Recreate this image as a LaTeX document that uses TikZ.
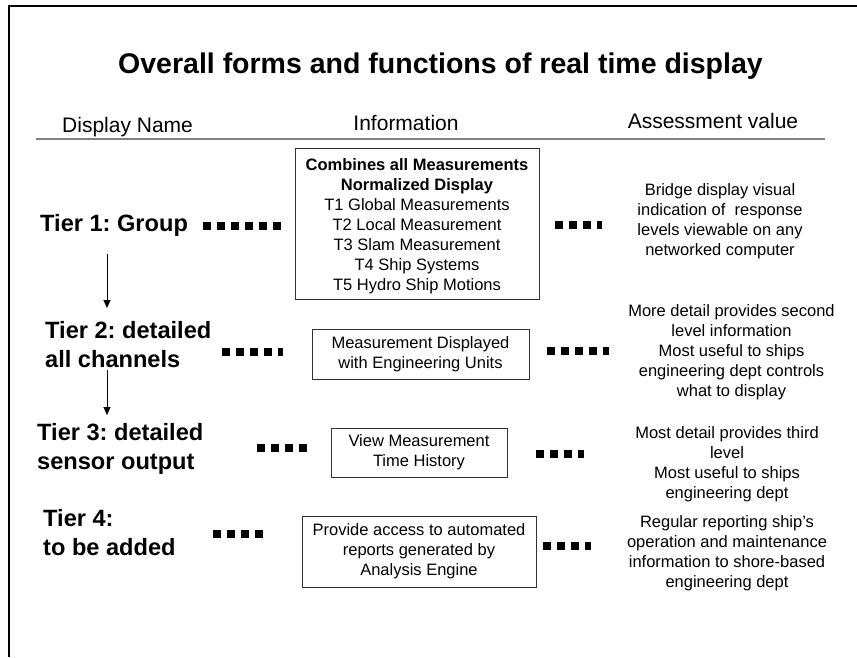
\documentclass[tikz,border=0pt]{standalone}
\usepackage{fontspec}
\setmainfont{Liberation Sans}
\usetikzlibrary{arrows.meta}
\frenchspacing
\begin{document}
\begin{tikzpicture}[x=1pt,y=-1pt,
  title/.style={font=\fontsize{28.5}{34}\selectfont\bfseries},
  colhead/.style={font=\fontsize{21}{25}\selectfont, inner sep=0pt},
  tier/.style={font=\fontsize{23.6}{28.3}\selectfont\bfseries, align=left, inner sep=0pt, anchor=base west},
  body/.style={font=\fontsize{16.5}{20}\selectfont, align=center, inner sep=0pt},
  infobox/.style={body, draw=black!80, line width=0.9pt},
  dotline/.style={line width=8pt, dash pattern=on 8pt off 6pt, line cap=butt},
  flow/.style={line width=1pt, -{Triangle[width=7pt,length=8pt]}}]
\useasboundingbox (0,0) rectangle (857,657);
\fill[white] (0,0) rectangle (857,657);

% page frame: left and top edges
\draw[line width=2pt] (9,657) -- (9,6) -- (857,6);

% title and column headings
\node[title, anchor=base, inner sep=0pt] (title) at (440.5,73) {Overall forms and functions of real time display};
\node[colhead, anchor=base west] (hname) at (62,132) {Display Name};
\node[colhead, anchor=base] (hinfo) at (406,130) {Information};
\node[colhead, anchor=base] (hvalue) at (713,128) {Assessment value};
\coordinate (rulel) at (36,139);
\coordinate (ruler) at (825,139);
\draw[gray, line width=1.3pt] (rulel) -- (ruler);

% tier names (anchored at the baseline of their last line)
\node[tier] (tier1) at (40,231) {Tier 1: Group};
\node[tier] (tier2) at (45,367) {Tier 2: detailed\\all channels};
\node[tier] (tier3) at (37,469) {Tier 3: detailed\\sensor output};
\node[tier] (tier4) at (43,555) {Tier 4:\\to be added};

% information boxes
\node[infobox, minimum width=244pt, minimum height=151pt] (info1) at (417,223.5)
  {\rule{0pt}{18pt}\textbf{Combines all Measurements}\\\textbf{Normalized Display}\\T1 Global Measurements\\T2 Local Measurement\\T3 Slam Measurement\\T4 Ship Systems\\T5 Hydro Ship Motions};
\node[infobox, minimum width=217pt, minimum height=50pt] (info2) at (420.5,354)
  {Measurement Displayed\\with Engineering Units};
\node[infobox, minimum width=176pt, minimum height=49pt] (info3) at (419,452.5)
  {View Measurement\\Time History};
\node[infobox, minimum width=234pt, minimum height=71pt] (info4) at (419,551.5)
  {Provide access to automated\\reports generated by\\Analysis Engine};

% assessment values (anchored at the baseline of their last line)
\node[body, anchor=base] (val1) at (720,255)
  {Bridge display visual\\indication of\ \ response\\levels viewable on any\\networked computer};
\node[body, anchor=base] (val2) at (731.5,396)
  {More detail provides second\\level information\\Most useful to ships\\engineering dept controls\\what to display};
\node[body, anchor=base] (val3) at (727,498)
  {Most detail provides third\\level\\Most useful to ships\\engineering dept};
\node[body, anchor=base] (val4) at (727,587)
  {Regular reporting ship’s\\operation and maintenance\\information to shore-based\\engineering dept};

% dotted leaders
\coordinate (d1a) at (203,226);  \coordinate (d1b) at (282,226);
\coordinate (d1c) at (555,225);  \coordinate (d1d) at (602,225);
\coordinate (d2a) at (222,352);  \coordinate (d2b) at (283,352);
\coordinate (d2c) at (547,351);  \coordinate (d2d) at (609,351);
\coordinate (d3a) at (257,448);  \coordinate (d3b) at (308,448);
\coordinate (d3c) at (536,454);  \coordinate (d3d) at (584,454);
\coordinate (d4a) at (213,534);  \coordinate (d4b) at (263,534);
\coordinate (d4c) at (543,546);  \coordinate (d4d) at (591,546);
\foreach \s/\e in {d1a/d1b,d1c/d1d,d2a/d2b,d2c/d2d,d3a/d3b,d3c/d3d,d4a/d4b,d4c/d4d}
  \draw[dotline] (\s) -- (\e);

% drill-down arrows between tiers
\coordinate (a1s) at (107,254); \coordinate (a1e) at (107,308);
\coordinate (a2s) at (107,370); \coordinate (a2e) at (107,415);
\draw[flow] (a1s) -- (a1e);
\draw[flow] (a2s) -- (a2e);
\end{tikzpicture}
\end{document}
